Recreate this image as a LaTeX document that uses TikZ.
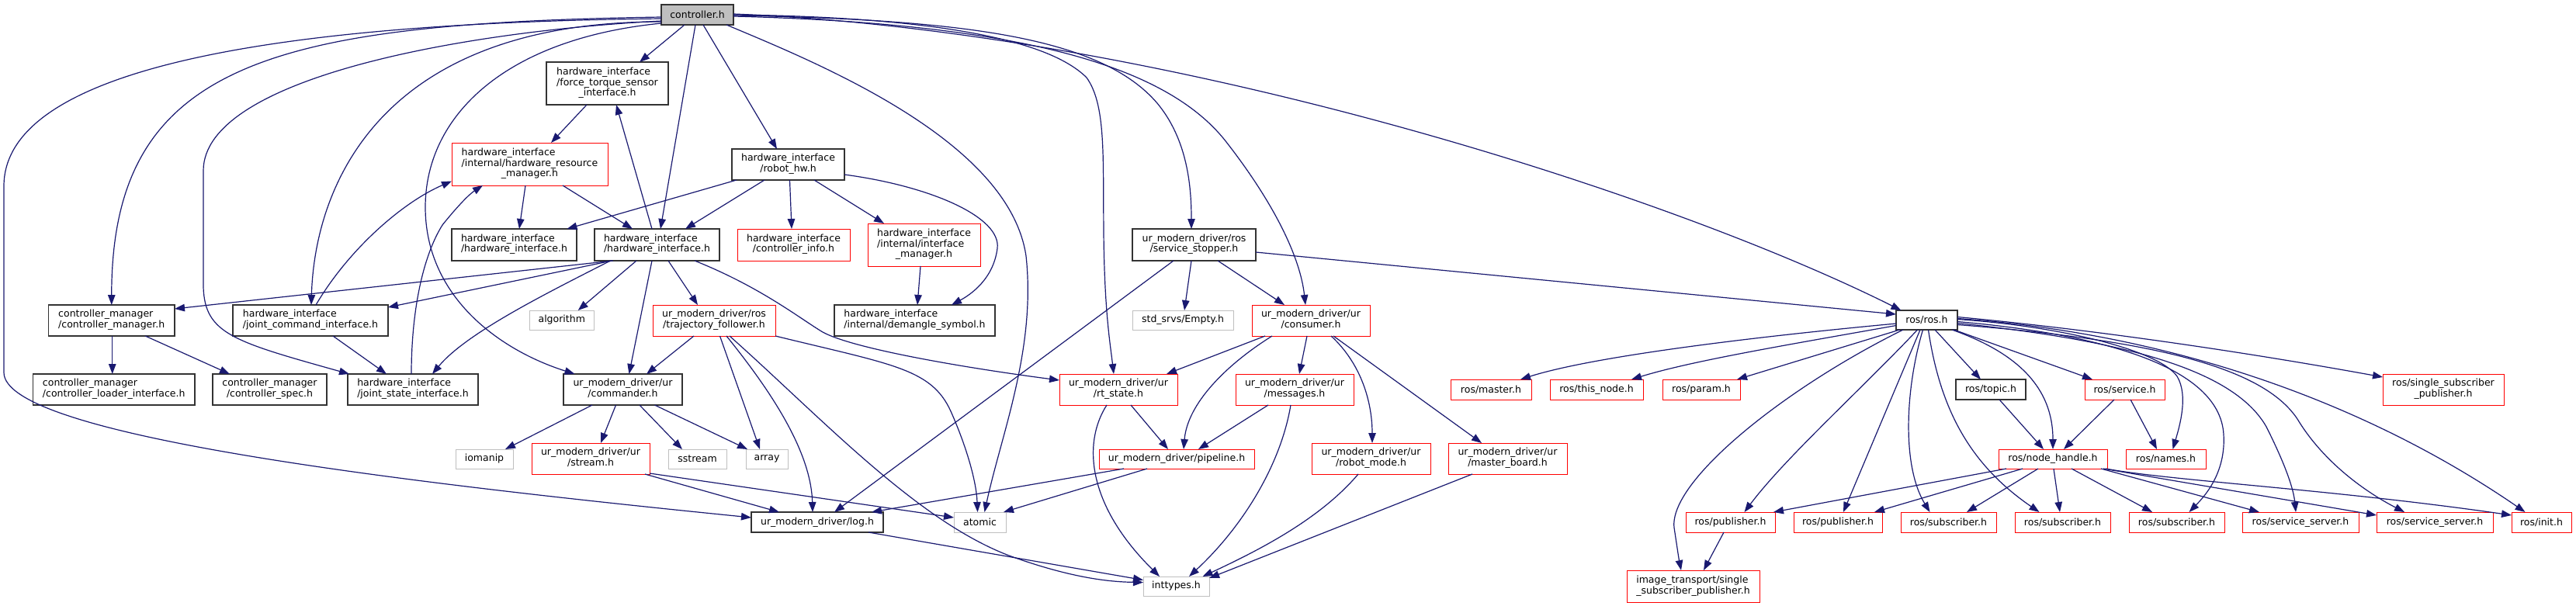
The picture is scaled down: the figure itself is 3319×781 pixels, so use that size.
\documentclass[tikz,border=0pt]{standalone}
\usepackage{fontspec}
\setmainfont{DejaVu Sans}
\usetikzlibrary{arrows.meta}
\definecolor{edgec}{HTML}{191970}
\definecolor{greyS}{HTML}{BFBFBF}
\newcommand\TwoL[2]{\begin{tabular}{@{}l@{}}#1\\\multicolumn{1}{@{}c@{}}{#2}\end{tabular}}
\newcommand\ThreeL[3]{\begin{tabular}{@{}l@{}}#1\\#2\\\multicolumn{1}{@{}c@{}}{#3}\end{tabular}}
\newcommand\nd[7]{\node[nb,#6,minimum width={#4-#2},minimum height={#5-#3}] (#1) at ({(#2+#4)/2},{(#3+#5)/2}) {#7};}
\tikzset{
  nb/.style={rectangle, inner sep=0pt, outer sep=0pt, line width=1pt, fill=white, align=center},
  blk/.style={draw=black!80, line width=1.2pt},
  redb/.style={draw=red},
  gry/.style={draw=greyS},
  mainb/.style={draw=black!80, line width=1.2pt, fill=greyS},
  e/.style={draw=edgec, line width=1.2pt, -{Triangle[length=13pt,width=9.5pt]}}
}
\begin{document}
\begin{tikzpicture}[x=1pt,y=-1pt,font=\fontsize{12.5}{13.4}\selectfont]
\useasboundingbox[fill=white] (0,0) rectangle (3319,781);
% nodes
\nd{ctrl}{852}{6}{945}{32}{mainb}{controller.h}
\nd{ft}{704}{80}{861}{135}{blk}{\ThreeL{hardware\_interface}{/force\_torque\_sensor}{\_interface.h}}
\nd{hrm}{582}{184}{783}{239}{redb}{\ThreeL{hardware\_interface}{/internal/hardware\_resource}{\_manager.h}}
\nd{rhw}{943}{192}{1088}{232}{blk}{\TwoL{hardware\_interface}{/robot\_hw.h}}
\nd{hil}{582}{295}{743}{336}{blk}{\TwoL{hardware\_interface}{/hardware\_interface.h}}
\nd{hic}{766}{295}{927}{336}{blk}{\TwoL{hardware\_interface}{/hardware\_interface.h}}
\nd{cinfo}{950}{295}{1095}{336}{redb}{\TwoL{hardware\_interface}{/controller\_info.h}}
\nd{imgr}{1118}{288}{1263}{343}{redb}{\ThreeL{hardware\_interface}{/internal/interface}{\_manager.h}}
\nd{sstop}{1459}{295}{1618}{336}{blk}{\TwoL{ur\_modern\_driver/ros}{/service\_stopper.h}}
\nd{demangle}{1075}{393}{1282}{433}{blk}{\TwoL{hardware\_interface}{/internal/demangle\_symbol.h}}
\nd{empty}{1459}{400}{1589}{425}{gry}{std\_srvs/Empty.h}
\nd{cm}{62.5}{393}{225}{433}{blk}{\TwoL{controller\_manager}{/controller\_manager.h}}
\nd{jci}{300}{393}{500}{433}{blk}{\TwoL{hardware\_interface}{/joint\_command\_interface.h}}
\nd{cli}{42.5}{482}{251}{522}{blk}{\TwoL{controller\_manager}{/controller\_loader\_interface.h}}
\nd{cspec}{274}{482}{421}{522}{blk}{\TwoL{controller\_manager}{/controller\_spec.h}}
\nd{jsi}{448}{482}{616}{522}{blk}{\TwoL{hardware\_interface}{/joint\_state\_interface.h}}
\nd{algo}{682.5}{400}{765}{425}{gry}{algorithm}
\nd{traj}{841}{393}{999}{433}{redb}{\TwoL{ur\_modern\_driver/ros}{/trajectory\_follower.h}}
\nd{cmdr}{726}{482}{879}{522}{blk}{\TwoL{ur\_modern\_driver/ur}{/commander.h}}
\nd{ioma}{587}{579}{661}{604}{gry}{iomanip}
\nd{strm}{685}{571}{837}{611}{redb}{\TwoL{ur\_modern\_driver/ur}{/stream.h}}
\nd{sstr}{861}{579}{936}{604}{gry}{sstream}
\nd{arr}{961}{579}{1015}{604}{gry}{array}
\nd{log}{968}{660}{1138}{686}{blk}{ur\_modern\_driver/log.h}
\nd{atomic}{1229}{660}{1296}{686}{gry}{atomic}
\nd{intt}{1473}{743}{1558}{768}{gry}{inttypes.h}
\nd{rts}{1365}{482}{1517}{522}{redb}{\TwoL{ur\_modern\_driver/ur}{/rt\_state.h}}
\nd{pipe}{1416}{579}{1616}{604}{redb}{ur\_modern\_driver/pipeline.h}
\nd{cons}{1613}{393}{1765}{433}{redb}{\TwoL{ur\_modern\_driver/ur}{/consumer.h}}
\nd{msgs}{1592}{482}{1744}{522}{redb}{\TwoL{ur\_modern\_driver/ur}{/messages.h}}
\nd{rmode}{1690}{571}{1843}{611}{redb}{\TwoL{ur\_modern\_driver/ur}{/robot\_mode.h}}
\nd{mboard}{1866}{571}{2019}{611}{redb}{\TwoL{ur\_modern\_driver/ur}{/master\_board.h}}
\nd{ros}{2443}{400}{2522}{425}{blk}{ros/ros.h}
\nd{master}{1869}{489}{1973}{515}{redb}{ros/master.h}
\nd{thisn}{1997}{489}{2117}{515}{redb}{ros/this\_node.h}
\nd{param}{2142}{489}{2242}{515}{redb}{ros/param.h}
\nd{topic}{2520}{489}{2610}{515}{blk}{ros/topic.h}
\nd{service}{2686}{489}{2789}{515}{redb}{ros/service.h}
\nd{ssp}{3070}{482}{3226}{522}{redb}{\TwoL{ros/single\_subscriber}{\_publisher.h}}
\nd{nh}{2575}{579}{2715}{604}{redb}{ros/node\_handle.h}
\nd{names}{2739}{579}{2842}{604}{redb}{ros/names.h}
\nd{pub1}{2172}{660}{2287}{686}{redb}{ros/publisher.h}
\nd{pub2}{2311}{660}{2425}{686}{redb}{ros/publisher.h}
\nd{sub1}{2449}{660}{2572}{686}{redb}{ros/subscriber.h}
\nd{sub2}{2596}{660}{2719}{686}{redb}{ros/subscriber.h}
\nd{sub3}{2743}{660}{2866}{686}{redb}{ros/subscriber.h}
\nd{ss1}{2889}{660}{3039}{686}{redb}{ros/service\_server.h}
\nd{ss2}{3062}{660}{3212}{686}{redb}{ros/service\_server.h}
\nd{init}{3236}{660}{3313}{686}{redb}{ros/init.h}
\nd{imgt}{2096}{735}{2267}{776}{redb}{\TwoL{image\_transport/single}{\_subscriber\_publisher.h}}
% edges from controller.h
\draw[e] ([yshift=-3]ctrl.west) .. controls (350,30) and (143.75,80) .. (cm.north);
\draw[e] ([yshift=-5]ctrl.west) .. controls (300,30) and (5,100) .. (5,240) -- (5,480) .. controls (5,560) and (500,620) .. ([yshift=6]log.west);
\draw[e] ([yshift=-8]ctrl.west) .. controls (600,40) and (262,100) .. (262,220) -- (262,370) .. controls (264,430) and (300,440) .. ([xshift=2]jsi.north west);
\draw[e] ([yshift=-9]ctrl.west) .. controls (480,28) and (405,250) .. ([xshift=1]jci.north);
\draw[e] ([yshift=-11]ctrl.west) .. controls (650,50) and (548,150) .. (548,267) .. controls (548,380) and (640,450) .. ([xshift=-62]cmdr.north);
\draw[e] ([xshift=-16.5]ctrl.south) -- ([xshift=41.5]ft.north);
\draw[e] ([xshift=-2.5]ctrl.south) -- ([xshift=4.5]hic.north);
\draw[e] ([xshift=7.5]ctrl.south) -- ([xshift=-14.5]rhw.north);
\draw[e] ([xshift=37.5]ctrl.south) .. controls (1050,80) and (1300,180) .. (1322,330) .. controls (1335,450) and (1290,560) .. ([xshift=6]atomic.north);
\draw[e] (ctrl.east) .. controls (1200,22) and (1350,50) .. (1400,100) .. controls (1425,135) and (1421,200) .. (1422,300) .. controls (1423,400) and (1430,440) .. ([xshift=-6]rts.north);
\draw[e] ([yshift=-1]ctrl.east) .. controls (1250,25) and (1420,50) .. (1491,133) .. controls (1530,180) and (1535,240) .. ([xshift=-3.5]sstop.north);
\draw[e] ([yshift=-2]ctrl.east) .. controls (1300,30) and (1500,80) .. (1580,183) .. controls (1640,260) and (1675,330) .. ([xshift=-7]cons.north);
\draw[e] ([yshift=1]ctrl.east) .. controls (1500,40) and (2150,250) .. ([xshift=-33]ros.north);
% hardware interface block
\draw[e] ([xshift=-26.5]ft.south) -- ([xshift=27.5]hrm.north);
\draw[e] ([xshift=-6.5]hic.north) -- ([xshift=11.5]ft.south);
\draw[e] ([xshift=-5.5]hrm.south) -- ([xshift=6.5]hil.north);
\draw[e] ([xshift=42.5]hrm.south) -- ([xshift=-31.5]hic.north);
\draw[e] ([xshift=-66.5]rhw.south) -- ([xshift=68]hil.north);
\draw[e] ([xshift=-30.5]rhw.south) -- ([xshift=36.5]hic.north);
\draw[e] ([xshift=2]rhw.south) -- ([xshift=-2.5]cinfo.north);
\draw[e] ([xshift=33.5]rhw.south) -- ([xshift=-51.5]imgr.north);
\draw[e] ([yshift=-13]rhw.east) .. controls (1200,240) and (1290,280) .. (1285,320) .. controls (1280,360) and (1250,380) .. ([xshift=47.5]demangle.north);
\draw[e] ([xshift=-4.5]imgr.south) -- ([xshift=3.5]demangle.north);
\draw[e] ([xshift=48.5]hic.south) .. controls (980,370) and (1030,410) .. (1060,428) .. controls (1100,450) and (1250,475) .. ([yshift=12]rts.west);
\draw[e] ([xshift=-56.5]hic.south) -- ([yshift=15]cm.east);
\draw[e] ([xshift=-58]hic.south) -- ([yshift=-3]jci.north east);
\draw[e] ([xshift=-60]hic.south) .. controls (700,380) and (600,430) .. ([xshift=25]jsi.north);
\draw[e] ([xshift=-26.5]hic.south) -- ([xshift=21]algo.north);
\draw[e] ([xshift=-6.5]hic.south) -- ([xshift=8]cmdr.north);
\draw[e] ([xshift=14.5]hic.south) -- ([xshift=-21]traj.north);
\draw[e] ([xshift=7]jci.north) .. controls (450,320) and (520,260) .. ([yshift=-22]hrm.west);
\draw[e] ([xshift=29]jci.south) -- ([xshift=-34]jsi.north);
\draw[e] ([xshift=-2]jsi.north) .. controls (530,400) and (545,330) .. (570,290) .. controls (590,265) and (605,250) .. ([xshift=-60.5]hrm.south);
\draw[e] ([xshift=1]cm.south) -- ([xshift=-2]cli.north);
\draw[e] ([xshift=43.5]cm.south) -- ([xshift=-51.5]cspec.north);
% ur_modern_driver block
\draw[e] ([xshift=-39.5]cmdr.south) -- ([xshift=27]ioma.north);
\draw[e] ([xshift=-9]cmdr.south) -- ([xshift=13]strm.north);
\draw[e] ([xshift=21.5]cmdr.south) -- ([xshift=-19.5]sstr.north);
\draw[e] ([xshift=41]cmdr.south) -- ([xshift=2]arr.north west);
\draw[e] ([xshift=70]strm.south) -- ([xshift=-49]log.north);
\draw[e] ([yshift=-19]strm.east) -- ([yshift=6]atomic.west);
\draw[e] ([xshift=20]traj.south) .. controls (1060,540) and (1180,670) .. (1300,716) .. controls (1380,745) and (1430,750) .. ([yshift=5]intt.west);
\draw[e] ([xshift=16]traj.south) .. controls (990,500) and (1045,580) .. ([xshift=-6]log.north);
\draw[e] ([xshift=7.5]traj.south) -- ([xshift=-9]arr.north);
\draw[e] ([xshift=-26]traj.south) -- ([xshift=30.5]cmdr.north);
\draw[e] (traj.south east) .. controls (1150,470) and (1200,475) .. (1225,530) .. controls (1245,575) and (1258,620) .. ([xshift=-3]atomic.north);
\draw[e] ([xshift=-26.5]sstop.south) -- ([xshift=22]log.north);
\draw[e] ([xshift=-3.5]sstop.south) -- ([xshift=2]empty.north);
\draw[e] ([xshift=30.5]sstop.south) -- ([xshift=-34]cons.north);
\draw[e] ([yshift=-9.5]sstop.east) -- ([yshift=7.5]ros.west);
\draw[e] ([xshift=-59]cons.south) -- ([xshift=62]rts.north);
\draw[e] ([xshift=-50]cons.south) .. controls (1580,470) and (1530,520) .. ([xshift=9]pipe.north);
\draw[e] ([xshift=-5]cons.south) -- ([xshift=6]msgs.north);
\draw[e] ([xshift=26]cons.south) .. controls (1755,470) and (1768,520) .. ([xshift=1.5]rmode.north);
\draw[e] ([xshift=29]cons.south) -- ([xshift=-33.5]mboard.north);
\draw[e] ([xshift=16]rts.south) -- ([xshift=-11]pipe.north);
\draw[e] ([xshift=-15]rts.south) .. controls (1395,570) and (1400,650) .. ([xshift=-21.5]intt.north);
\draw[e] ([xshift=-34]msgs.south) -- ([xshift=28]pipe.north);
\draw[e] ([xshift=-5]msgs.south) .. controls (1650,600) and (1600,680) .. ([xshift=16.5]intt.north);
\draw[e] ([xshift=-16.5]rmode.south) .. controls (1700,670) and (1620,710) .. ([xshift=34]intt.north);
\draw[e] ([xshift=-45.5]mboard.south) -- ([yshift=-2]intt.north east);
\draw[e] ([xshift=-68]pipe.south) -- ([xshift=70]log.north);
\draw[e] ([xshift=-38]pipe.south) -- ([xshift=-3]atomic.north east);
\draw[e] ([xshift=66]log.south) -- ([yshift=8]intt.west);
% ros block
\draw[e] ([yshift=-4.5]ros.west) .. controls (2250,435) and (2050,460) .. ([xshift=38]master.north);
\draw[e] ([yshift=-7]ros.west) .. controls (2300,445) and (2180,465) .. ([xshift=45]thisn.north);
\draw[e] ([xshift=-35]ros.south) -- ([xshift=46]param.north);
\draw[e] ([xshift=-30.5]ros.south) .. controls (2300,500) and (2150,620) .. (2157,680) .. controls (2160,700) and (2163,720) .. ([xshift=-15.5]imgt.north);
\draw[e] ([xshift=-12]ros.south) .. controls (2400,500) and (2300,590) .. ([xshift=18]pub1.north);
\draw[e] ([xshift=-8.5]ros.south) -- ([xshift=7]pub2.north);
\draw[e] ([xshift=-5]ros.south) .. controls (2455,500) and (2450,600) .. ([xshift=-24]sub1.north);
\draw[e] ([xshift=2]ros.south) .. controls (2500,530) and (2540,600) .. ([xshift=-30]sub2.north);
\draw[e] ([xshift=10.5]ros.south) -- ([xshift=-13]topic.north);
\draw[e] ([xshift=32.5]ros.south) .. controls (2600,455) and (2645,500) .. (nh.north);
\draw[e] ([xshift=35]ros.south) -- ([xshift=-41.5]service.north);
\draw[e] ([yshift=4]ros.east) .. controls (2700,425) and (2900,455) .. ([yshift=16]ssp.west);
\draw[e] ([yshift=1]ros.east) .. controls (2650,420) and (2780,450) .. (2805,485) .. controls (2820,510) and (2808,550) .. ([xshift=9]names.north);
\draw[e] ([yshift=-2]ros.east) .. controls (2700,430) and (2860,470) .. (2865,560) .. controls (2868,610) and (2840,640) .. ([xshift=16]sub3.north);
\draw[e] ([yshift=-4]ros.east) .. controls (2750,440) and (2880,480) .. (2920,550) .. controls (2945,600) and (2955,630) .. ([xshift=-6]ss1.north);
\draw[e] ([yshift=-6]ros.east) .. controls (2800,440) and (2920,480) .. (2960,540) .. controls (2990,590) and (3040,630) .. ([xshift=-39]ss2.north);
\draw[e] ([yshift=2]ros.east) .. controls (2800,430) and (3050,520) .. ([xshift=-21]init.north);
\draw[e] ([xshift=7.5]service.south) -- ([xshift=-11.5]names.north);
\draw[e] ([xshift=-13.5]service.south) -- ([xshift=14]nh.north);
\draw[e] ([xshift=11]topic.south) -- ([xshift=-12]nh.north);
\draw[e] ([xshift=-60]nh.south) -- ([xshift=-2]pub1.north east);
\draw[e] ([xshift=-39]nh.south) -- ([xshift=47]pub2.north);
\draw[e] ([xshift=-19]nh.south) -- ([xshift=23.5]sub1.north);
\draw[e] ([xshift=1]nh.south) -- ([xshift=-3.5]sub2.north);
\draw[e] ([xshift=24]nh.south) -- ([xshift=-31.5]sub3.north);
\draw[e] ([xshift=-8]nh.south east) -- ([xshift=-53]ss1.north);
\draw[e] ([xshift=-5]nh.south east) -- ([yshift=-4]ss2.north west);
\draw[e] ([xshift=-2]nh.south east) .. controls (2800,620) and (3000,630) .. ([yshift=9]init.west);
\draw[e] ([xshift=-8.5]pub1.south) -- ([xshift=13.5]imgt.north);
\end{tikzpicture}
\end{document}
